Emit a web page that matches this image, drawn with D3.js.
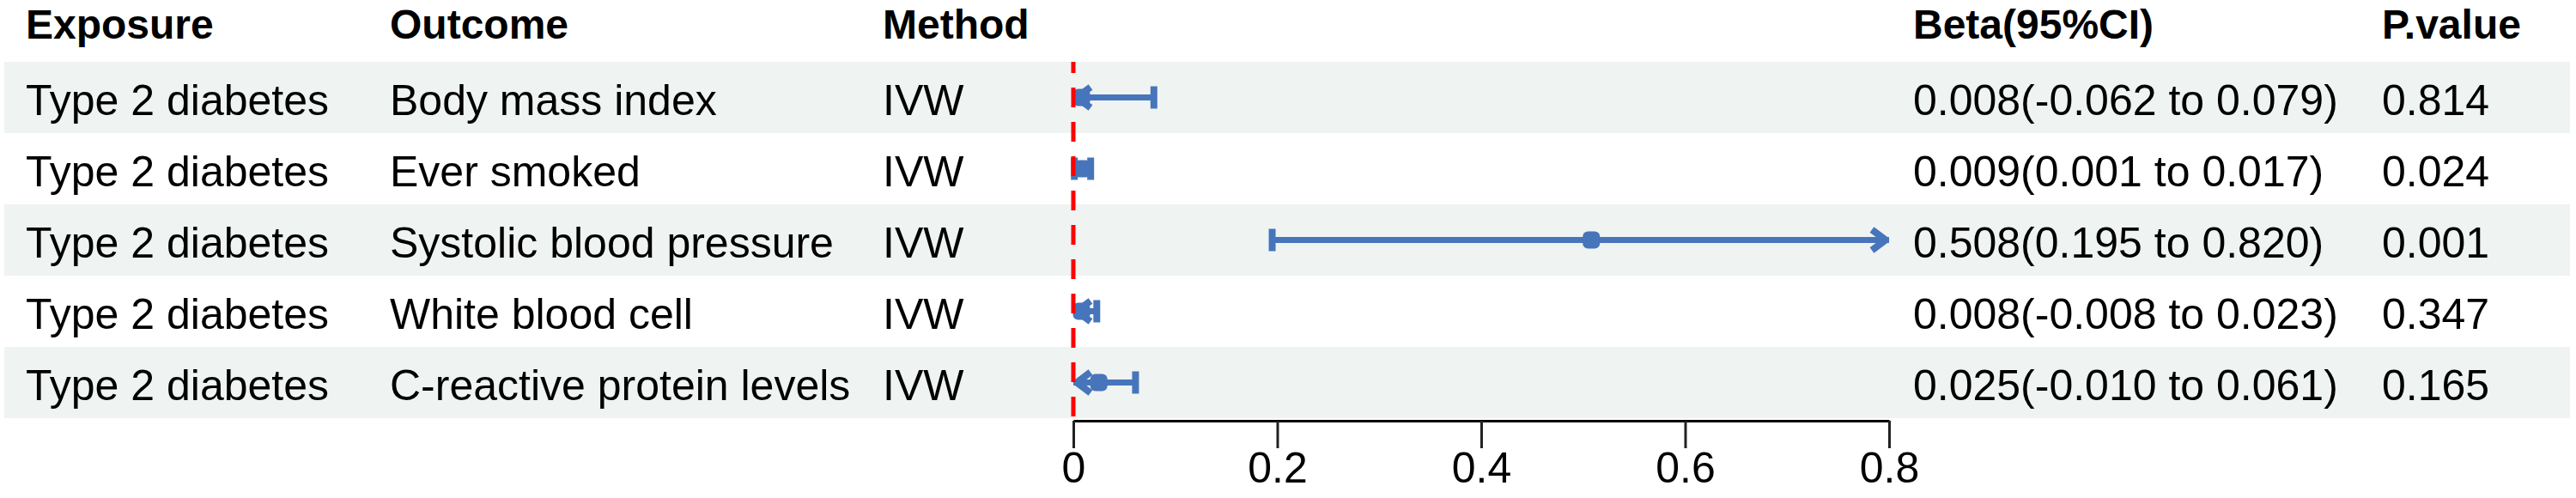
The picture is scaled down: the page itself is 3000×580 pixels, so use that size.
<!DOCTYPE html>
<html>
<head>
<meta charset="utf-8">
<script src="https://cdn.jsdelivr.net/npm/d3@7"></script>
<style>
  body { margin: 0; background: #fff; }
  text { font-family: "Liberation Sans", Arial, sans-serif; fill: #000; }
</style>
</head>
<body>
<div class="container"></div>
<script>
var svgWidth = 3000;
var svgHeight = 580;

// table data
var exposures = ["Type 2 diabetes", "Type 2 diabetes", "Type 2 diabetes", "Type 2 diabetes", "Type 2 diabetes"];
var outcomes = ["Body mass index", "Ever smoked", "Systolic blood pressure", "White blood cell", "C-reactive protein levels"];
var methods = ["IVW", "IVW", "IVW", "IVW", "IVW"];
var beta = [0.008, 0.009, 0.508, 0.008, 0.025];
var lower = [-0.062, 0.001, 0.195, -0.008, -0.010];
var upper = [0.079, 0.017, 0.820, 0.023, 0.061];
var pvalues = ["0.814", "0.024", "0.001", "0.347", "0.165"];
var headers = ["Exposure", "Outcome", "Method", "Beta(95%CI)", "P.value"];
var tickValues = [0, 0.2, 0.4, 0.6, 0.8];

var blue = "#4775bb";
var rowTop = 72, rowH = 83;

var svg = d3.select(".container")
  .append("svg")
  .attr("width", svgWidth)
  .attr("height", svgHeight);

var rows = beta.map(function(b, i) {
  return {
    exposure: exposures[i], outcome: outcomes[i], method: methods[i],
    beta: b, lo: lower[i], hi: upper[i], p: pvalues[i],
    ci: b.toFixed(3) + "(" + lower[i].toFixed(3) + " to " + upper[i].toFixed(3) + ")"
  };
});

var y = d3.scaleBand()
  .domain(d3.range(rows.length))
  .range([rowTop, rowTop + rowH * rows.length])
  .padding(0);

var x = d3.scaleLinear()
  .domain([0, 0.8])
  .range([1250, 2200]);

// alternating row backgrounds
svg.append("g").selectAll("rect")
  .data(rows)
  .enter()
  .append("rect")
  .attr("x", 5)
  .attr("width", 2988)
  .attr("y", (d, i) => y(i))
  .attr("height", y.bandwidth())
  .attr("fill", (d, i) => i % 2 === 0 ? "#eff3f2" : "#ffffff");

// column positions
var colX = [30, 454, 1028, 2228, 2774];

svg.append("g").selectAll("text")
  .data(headers)
  .enter()
  .append("text")
  .attr("x", (d, i) => colX[i])
  .attr("y", 45)
  .attr("font-size", 48)
  .attr("font-weight", "bold")
  .text(d => d);

var cols = ["exposure", "outcome", "method", "ci", "p"];
var rowG = svg.append("g").selectAll("g")
  .data(rows)
  .enter()
  .append("g")
  .attr("transform", (d, i) => `translate(0, ${y(i) + y.bandwidth() / 2})`);

cols.forEach(function(c, j) {
  rowG.append("text")
    .attr("x", colX[j])
    .attr("y", 20)
    .attr("font-size", 50)
    .text(d => d[c]);
});

// reference line at zero
svg.append("line")
  .attr("x1", x(0)).attr("x2", x(0))
  .attr("y1", rowTop).attr("y2", 490)
  .attr("stroke", "#ff0000")
  .attr("stroke-width", 5)
  .attr("stroke-dasharray", "23 17")
  .attr("stroke-dashoffset", 10);

// CI lines, clipped to the axis range
var xmin = x.domain()[0], xmax = x.domain()[1];
rowG.append("line")
  .attr("x1", d => x(Math.max(d.lo, xmin)))
  .attr("x2", d => x(Math.min(d.hi, xmax)))
  .attr("stroke", blue)
  .attr("stroke-width", 7);

// caps or arrows at both ends
rowG.each(function(d) {
  var g = d3.select(this);
  if (d.lo >= xmin) {
    g.append("line")
      .attr("x1", x(d.lo)).attr("x2", x(d.lo))
      .attr("y1", -13).attr("y2", 13)
      .attr("stroke", blue).attr("stroke-width", 8);
  } else {
    var x0 = x(xmin);
    g.append("path")
      .attr("d", `M${x0 + 20},-12 L${x0 + 4},0 L${x0 + 20},12`)
      .attr("fill", "none").attr("stroke", blue).attr("stroke-width", 8)
      .attr("stroke-linejoin", "round");
  }
  if (d.hi <= xmax) {
    g.append("line")
      .attr("x1", x(d.hi)).attr("x2", x(d.hi))
      .attr("y1", -13).attr("y2", 13)
      .attr("stroke", blue).attr("stroke-width", 8);
  } else {
    var x1 = x(xmax);
    g.append("path")
      .attr("d", `M${x1 - 20},-12 L${x1 - 4},0 L${x1 - 20},12`)
      .attr("fill", "none").attr("stroke", blue).attr("stroke-width", 8)
      .attr("stroke-linejoin", "round");
  }
});

// point estimates
rowG.append("rect")
  .attr("x", d => x(d.beta) - 10)
  .attr("y", -10)
  .attr("width", 20)
  .attr("height", 20)
  .attr("rx", 6)
  .attr("fill", blue);

// x axis
var bottomAxis = d3.axisBottom(x)
  .tickValues(tickValues)
  .tickSize(32)
  .tickSizeOuter(0)
  .tickPadding(4)
  .tickFormat(d => d === 0 ? "0" : d3.format(".1f")(d));

var xAxis = svg.append("g")
  .attr("transform", "translate(0, 490)")
  .call(bottomAxis);

xAxis.select(".domain").attr("stroke", "#000").attr("stroke-width", 3);
xAxis.selectAll(".tick line").attr("stroke", "#222").attr("stroke-width", 3);
xAxis.selectAll(".tick text")
  .attr("font-size", 50)
  .attr("fill", "#000")
  .attr("font-family", "Liberation Sans, Arial, sans-serif");
</script>
</body>
</html>
